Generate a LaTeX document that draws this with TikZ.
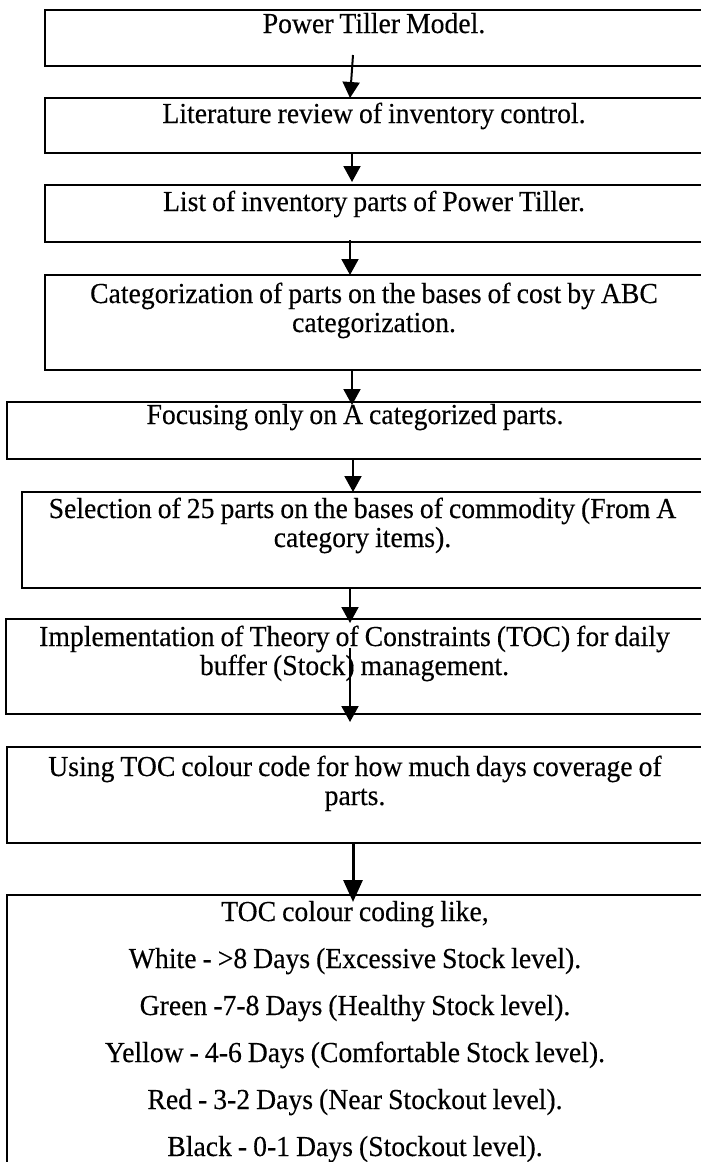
\documentclass[tikz,border=0pt]{standalone}
\usepackage{fontspec}
\setmainfont[FakeStretch=0.955, FakeBold=0.3]{Liberation Serif}
\usepackage{tikz}
\usetikzlibrary{arrows.meta}
\tikzset{
  stepbox/.style={
    rectangle, draw=black, line width=2.6pt, anchor=north west,
    inner sep=0pt, outer sep=0pt, align=center,
    font=\fontsize{29}{29}\selectfont,
    execute at begin node={\spaceskip=6pt\relax}
  },
  flow/.style={-{Triangle[width=17pt, length=16pt]}, line width=2pt},
  bigflow/.style={-{Triangle[width=19pt, length=22pt]}, line width=3pt},
}

\begin{document}
\begin{tikzpicture}[x=1pt, y=-1pt]
\path[use as bounding box] (0,0) rectangle (701,1162);
\clip (0,0) rectangle (701,1162);

% Steps
\node[stepbox, text width=658pt, text height=23pt, text depth=33pt] (model) at (45,10) {Power Tiller Model.};
\node[stepbox, text width=658pt, text height=25pt, text depth=30pt] (review) at (45,98) {Literature review of inventory control.};
\node[stepbox, text width=658pt, text height=26pt, text depth=31pt] (parts) at (45,185) {List of inventory parts of Power Tiller.};
\node[stepbox, text width=658pt, text height=28pt, text depth=67pt] (abc) at (45,275) {Categorization of parts on the bases of cost by ABC\\categorization.};
\node[stepbox, text width=696pt, text height=22pt, text depth=35pt] (focus) at (7,402) {Focusing only on A categorized parts.};
\node[stepbox, text width=681pt, text height=26pt, text depth=70pt] (select) at (22,492) {Selection of 25 parts on the bases of commodity (From A\\category items).};
\node[stepbox, text width=697pt, text height=27pt, text depth=68pt] (toc) at (6,619) {Implementation of Theory of Constraints (TOC) for daily\\buffer (Stock) management.};
\node[stepbox, text width=696pt, text height=29pt, text depth=67pt] (colour) at (7,747) {Using TOC colour code for how much days coverage of\\parts.};
\node[stepbox, text width=696pt, text height=26pt, text depth=279pt] (coding) at (7,895) {TOC colour coding like,\\[18pt]
  White - >8 Days (Excessive Stock level).\\[18pt]
  Green -7-8 Days (Healthy Stock level).\\[18pt]
  Yellow - 4-6 Days (Comfortable Stock level).\\[18pt]
  Red - 3-2 Days (Near Stockout level).\\[18pt]
  Black - 0-1 Days (Stockout level).};

% Arrows
\draw[flow] ([xshift=-21pt, yshift=11pt]model.south) -- ([xshift=-24pt]review.north);
\draw[flow] ([xshift=-22pt]review.south) -- ([xshift=-22pt, yshift=3pt]parts.north);
\draw[flow] ([xshift=-24pt, yshift=2pt]parts.south) -- ([xshift=-24pt]abc.north);
\draw[flow] ([xshift=-22pt]abc.south) -- ([xshift=-3pt, yshift=-3pt]focus.north);
\draw[flow] ([xshift=-2pt]focus.south) -- ([xshift=-9.5pt]select.north);
\draw[flow] ([xshift=-12.5pt]select.south) -- ([xshift=-4.5pt, yshift=-4pt]toc.north);
\draw[flow] ([xshift=-4.5pt, yshift=66pt]toc.south) -- ([xshift=-5pt, yshift=25pt]colour.north);
\draw[bigflow] ([xshift=-2pt]colour.south) -- ([xshift=-2pt, yshift=-7pt]coding.north);

\end{tikzpicture}
\end{document}
